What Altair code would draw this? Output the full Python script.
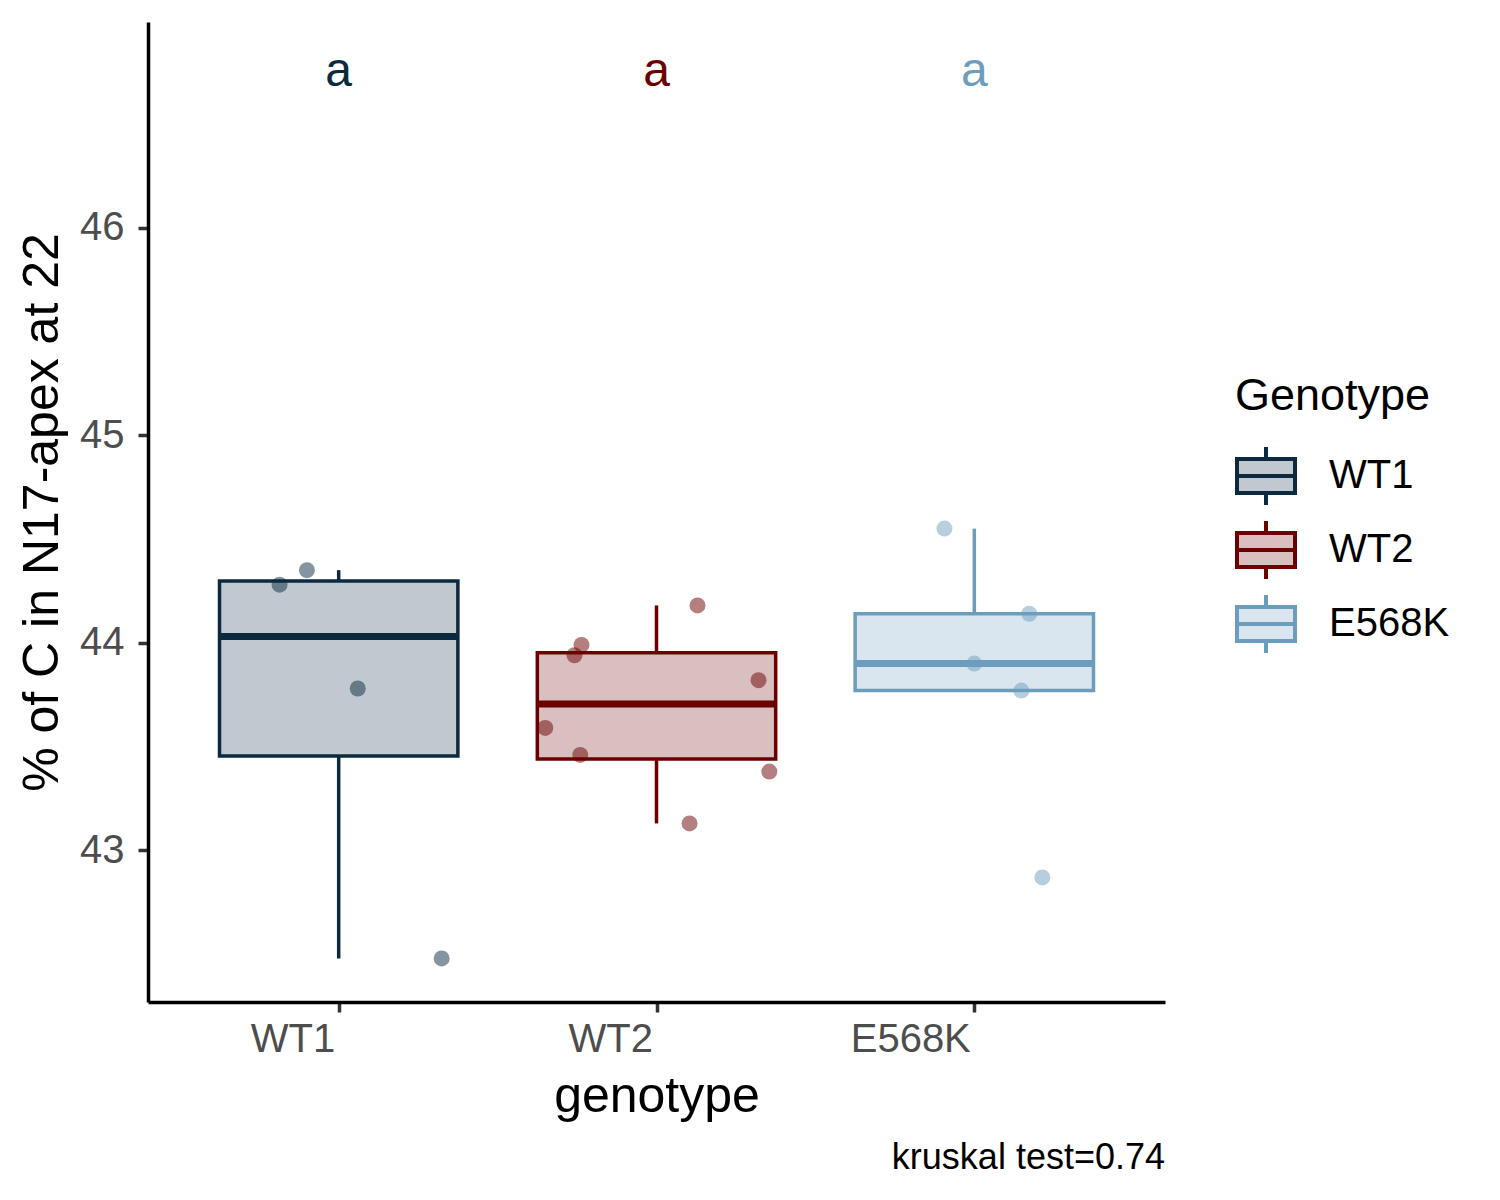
import altair as alt
import pandas as pd
import numpy as np

# ---- data ----
genotypes = ["WT1", "WT2", "E568K"]
dark_colors = ["#0b2a3f", "#6b0000", "#6d9dbd"]
light_colors = ["#c1c8cf", "#d9bfbf", "#dae6ef"]

wt1_values = [44.28, 44.35, 43.78, 42.48]
wt1_jitter = [-0.186, -0.100, 0.060, 0.324]
wt2_values = [43.59, 43.94, 43.99, 43.46, 43.13, 44.18, 43.82, 43.38]
wt2_jitter = [-0.350, -0.258, -0.236, -0.240, 0.104, 0.129, 0.321, 0.355]
e568k_values = [44.55, 44.14, 43.90, 43.77, 42.87]
e568k_jitter = [-0.094, 0.173, 0.000, 0.148, 0.214]

letters = ["a", "a", "a"]
letter_y = 46.75
y_ticks = [43, 44, 45, 46]
y_domain = [42.27, 46.99]
caption = "kruskal test=0.74"
x_title = "genotype"
y_title = "% of C in N17-apex at 22"
legend_title = "Genotype"

FONT = "Liberation Sans"
BOX_HALF = 0.375

values_by_group = [wt1_values, wt2_values, e568k_values]
jitter_by_group = [wt1_jitter, wt2_jitter, e568k_jitter]

# ---- tables ----
pts_rows = []
box_rows = []
whisk_rows = []
for i, (g, col, vals, jit) in enumerate(zip(genotypes, dark_colors, values_by_group, jitter_by_group)):
    pos = i + 1
    for v, j in zip(vals, jit):
        pts_rows.append({"genotype": g, "col": col, "x": pos + j, "y": v})
    arr = np.array(vals)
    q1, med, q3 = np.quantile(arr, [0.25, 0.5, 0.75])
    iqr = q3 - q1
    lo = arr[arr >= q1 - 1.5 * iqr].min()
    hi = arr[arr <= q3 + 1.5 * iqr].max()
    box_rows.append({"genotype": g, "col": col, "x": pos - BOX_HALF, "x2": pos + BOX_HALF,
                     "q1": q1, "q3": q3, "med": med})
    whisk_rows.append({"genotype": g, "col": col, "x": pos, "y": lo, "y2": q1})
    whisk_rows.append({"genotype": g, "col": col, "x": pos, "y": q3, "y2": hi})

pts = pd.DataFrame(pts_rows)
boxes = pd.DataFrame(box_rows)
whisk = pd.DataFrame(whisk_rows)
labels = pd.DataFrame({"genotype": genotypes, "col": dark_colors, "x": [1, 2, 3],
                       "y": [letter_y] * 3, "t": letters})

label_expr = " : ".join(
    [f"datum.value == {i + 1} ? '{g}'" for i, g in enumerate(genotypes[:-1])]
) + f" : '{genotypes[-1]}'"

x_scale = alt.Scale(domain=[0.4, 3.6], nice=False, zero=False)
y_scale = alt.Scale(domain=y_domain, nice=False, zero=False)
x_axis = alt.Axis(values=[1, 2, 3], labelExpr=label_expr, title=x_title,
                  labelPadding=7, titlePadding=12, labelAlign="right", labelOffset=-4)
y_axis = alt.Axis(values=y_ticks, title=y_title, labelPadding=14, titlePadding=12)

dark_scale = alt.Scale(domain=genotypes, range=dark_colors)
light_scale = alt.Scale(domain=genotypes, range=light_colors)
direct = alt.Color("col:N", scale=None)

X = lambda f="x": alt.X(f"{f}:Q", scale=x_scale, axis=x_axis)
Y = lambda f="y": alt.Y(f"{f}:Q", scale=y_scale, axis=y_axis)

legend_path = "M-1,-0.59L1,-0.59L1,0.59L-1,0.59Z M-1,0L1,0 M0,-1L0,-0.59 M0,0.59L0,1"
legend = alt.Legend(
    title=legend_title, orient="none", legendX=1087, legendY=352,
    titleFontSize=45, titleFont=FONT, titleColor="black", titleFontWeight="normal",
    titlePadding=26, titleLimit=500, labelLimit=400,
    labelFontSize=40, labelFont=FONT, labelColor="black", labelOffset=32,
    symbolType=legend_path, symbolSize=3364, symbolStrokeWidth=4,
    rowPadding=0,
)

whiskers = alt.Chart(whisk).mark_rule(strokeWidth=3.5).encode(
    x=X(), y=Y(), y2="y2:Q", color=direct,
)

box = alt.Chart(boxes).mark_rect(strokeWidth=3.5).encode(
    x=X(), x2="x2:Q", y=Y("q1"), y2="q3:Q",
    fill=alt.Fill("genotype:N", scale=light_scale, legend=legend),
    stroke=alt.Stroke("genotype:N", scale=dark_scale, legend=legend),
)

median = alt.Chart(boxes).mark_rule(strokeWidth=7).encode(
    x=X(), x2="x2:Q", y=Y("med"), color=direct,
)

points = alt.Chart(pts).mark_circle(size=256, opacity=0.5).encode(
    x=X(), y=Y(), color=direct,
)

text = alt.Chart(labels).mark_text(fontSize=48, font=FONT, baseline="middle", align="center").encode(
    x=X(), y=Y(), text="t:N", color=direct,
)

chart = alt.layer(whiskers, box, median, points, text).properties(
    width=1017, height=980,
    autosize=alt.AutoSizeParams(type="none"),
    padding={"left": 140, "top": 14, "right": 327, "bottom": 190},
    title=alt.TitleParams(caption, orient="bottom", anchor="end", frame="group",
                          fontSize=36, fontWeight="normal", font=FONT, color="black", offset=20),
).configure_view(stroke=None).configure_axis(
    grid=False, domainColor="black", domainWidth=3.5,
    tickColor="#333333", tickWidth=3.5, tickSize=10,
    labelColor="#4d4d4d", labelFontSize=40, labelFont=FONT,
    titleFontSize=50, titleFont=FONT, titleColor="black", titleFontWeight="normal",
)

chart.save("out.html", embed_options={"renderer": "svg", "actions": False})
